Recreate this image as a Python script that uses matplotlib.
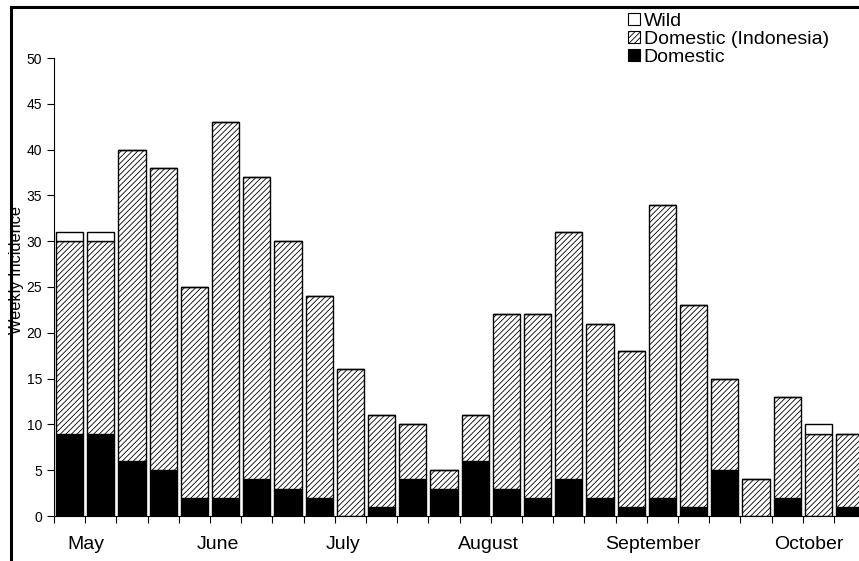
import numpy as np
import matplotlib
matplotlib.use("Agg")
import matplotlib.pyplot as plt
from matplotlib.patches import Patch
from matplotlib.lines import Line2D

plt.rcParams['font.family'] = ['Liberation Sans', 'DejaVu Sans']
plt.rcParams['hatch.linewidth'] = 0.6

# weekly counts, 26 weeks from May to October
domestic = [9, 9, 6, 5, 2, 2, 4, 3, 2, 0, 1, 4, 3, 6, 3, 2, 4, 2, 1, 2, 1, 5, 0, 2, 0, 1]
indonesia = [21, 21, 34, 33, 23, 41, 33, 27, 22, 16, 10, 6, 2, 5, 19, 20, 27, 19, 17, 32, 22, 10, 4, 11, 9, 8]
wild = [1, 1, 0, 0, 0, 0, 0, 0, 0, 0, 0, 0, 0, 0, 0, 0, 0, 0, 0, 0, 0, 0, 0, 0, 1, 0]

months = ['May', 'June', 'July', 'August', 'September', 'October']
month_pos = [0.53, 4.74, 8.77, 13.44, 18.7, 23.7]

W, H = 859, 561
fig = plt.figure(figsize=(W / 100, H / 100), dpi=100)
ax = fig.add_axes([54 / W, 45 / H, 805 / W, 458 / H])

x = np.arange(len(domestic))
dom = np.array(domestic)
ind = np.array(indonesia)
wld = np.array(wild)

bw = 0.87
ax.bar(x, dom, bw, color='black', edgecolor='black', linewidth=1)
ax.bar(x, ind, bw, bottom=dom, color='white', edgecolor='black', hatch='//////', linewidth=1)
ax.bar(x, wld, bw, bottom=dom + ind, color='white', edgecolor='black', linewidth=1)

ax.set_xlim(-0.5, -0.5 + 805 / 31.2)
ax.set_ylim(0, 50)
ax.set_yticks(range(0, 51, 5))
ax.set_xticks(np.arange(len(domestic)) - 0.5)
ax.set_xticklabels([])
ax.tick_params(direction='out', length=5, width=0.8, labelsize=10)
for s in ['top', 'right']:
    ax.spines[s].set_visible(False)
for s in ['left', 'bottom']:
    ax.spines[s].set_linewidth(0.8)

tr = ax.get_xaxis_transform()
for m, p in zip(months, month_pos):
    ax.text(p, -0.063, m, transform=tr, ha='center', va='center', fontsize=14)

fig.text(17 / W, 1 - 270 / H, 'Weekly Incidence', rotation=90, ha='center', va='center', fontsize=11.7)

handles = [Patch(facecolor='white', edgecolor='black', linewidth=0.8),
           Patch(facecolor='white', edgecolor='black', hatch='//////', linewidth=0.8),
           Patch(facecolor='black', edgecolor='black', linewidth=0.8)]
fig.legend(handles, ['Wild', 'Domestic (Indonesia)', 'Domestic'],
           loc='upper left', bbox_to_anchor=(628 / W, 1 - 13 / H), frameon=False,
           handlelength=0.6, handleheight=0.6, handletextpad=0.2, labelspacing=0.05,
           fontsize=14, borderaxespad=0, borderpad=0)

# outer chart frame (cut off at right and bottom)
fig.add_artist(Line2D([11 / W, 11 / W], [1 - 7 / H, 0], transform=fig.transFigure, color='black', lw=2.2))
fig.add_artist(Line2D([11 / W, 1], [1 - 7 / H, 1 - 7 / H], transform=fig.transFigure, color='black', lw=2.2))

fig.savefig('out.png', dpi=100)
